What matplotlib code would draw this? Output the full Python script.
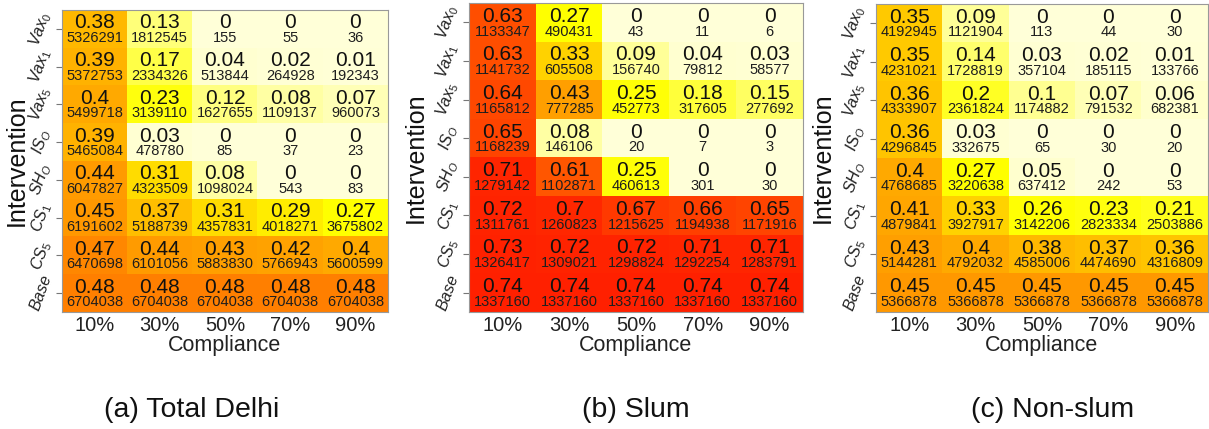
import matplotlib
matplotlib.use("Agg")
import matplotlib.pyplot as plt
import numpy as np
from matplotlib.colors import LinearSegmentedColormap

plt.rcParams['font.family'] = ['Liberation Sans', 'DejaVu Sans']
plt.rcParams['mathtext.fontset'] = 'custom'
plt.rcParams['mathtext.it'] = 'Liberation Sans:italic'
plt.rcParams['mathtext.rm'] = 'Liberation Sans'

# rows top -> bottom, columns = compliance levels
interventions = [r'$Vax_0$', r'$Vax_1$', r'$Vax_5$', r'$IS_O$', r'$SH_O$',
                 r'$CS_1$', r'$CS_5$', r'$Base$']
compliance = ['10%', '30%', '50%', '70%', '90%']
captions = ['(a) Total Delhi', '(b) Slum', '(c) Non-slum']

frac_total = [
    [0.38, 0.13, 0, 0, 0],
    [0.39, 0.17, 0.04, 0.02, 0.01],
    [0.4, 0.23, 0.12, 0.08, 0.07],
    [0.39, 0.03, 0, 0, 0],
    [0.44, 0.31, 0.08, 0, 0],
    [0.45, 0.37, 0.31, 0.29, 0.27],
    [0.47, 0.44, 0.43, 0.42, 0.4],
    [0.48, 0.48, 0.48, 0.48, 0.48],
]
count_total = [
    [5326291, 1812545, 155, 55, 36],
    [5372753, 2334326, 513844, 264928, 192343],
    [5499718, 3139110, 1627655, 1109137, 960073],
    [5465084, 478780, 85, 37, 23],
    [6047827, 4323509, 1098024, 543, 83],
    [6191602, 5188739, 4357831, 4018271, 3675802],
    [6470698, 6101056, 5883830, 5766943, 5600599],
    [6704038, 6704038, 6704038, 6704038, 6704038],
]

frac_slum = [
    [0.63, 0.27, 0, 0, 0],
    [0.63, 0.33, 0.09, 0.04, 0.03],
    [0.64, 0.43, 0.25, 0.18, 0.15],
    [0.65, 0.08, 0, 0, 0],
    [0.71, 0.61, 0.25, 0, 0],
    [0.72, 0.7, 0.67, 0.66, 0.65],
    [0.73, 0.72, 0.72, 0.71, 0.71],
    [0.74, 0.74, 0.74, 0.74, 0.74],
]
count_slum = [
    [1133347, 490431, 43, 11, 6],
    [1141732, 605508, 156740, 79812, 58577],
    [1165812, 777285, 452773, 317605, 277692],
    [1168239, 146106, 20, 7, 3],
    [1279142, 1102871, 460613, 301, 30],
    [1311761, 1260823, 1215625, 1194938, 1171916],
    [1326417, 1309021, 1298824, 1292254, 1283791],
    [1337160, 1337160, 1337160, 1337160, 1337160],
]

frac_nonslum = [
    [0.35, 0.09, 0, 0, 0],
    [0.35, 0.14, 0.03, 0.02, 0.01],
    [0.36, 0.2, 0.1, 0.07, 0.06],
    [0.36, 0.03, 0, 0, 0],
    [0.4, 0.27, 0.05, 0, 0],
    [0.41, 0.33, 0.26, 0.23, 0.21],
    [0.43, 0.4, 0.38, 0.37, 0.36],
    [0.45, 0.45, 0.45, 0.45, 0.45],
]
count_nonslum = [
    [4192945, 1121904, 113, 44, 30],
    [4231021, 1728819, 357104, 185115, 133766],
    [4333907, 2361824, 1174882, 791532, 682381],
    [4296845, 332675, 65, 30, 20],
    [4768685, 3220638, 637412, 242, 53],
    [4879841, 3927917, 3142206, 2823334, 2503886],
    [5144281, 4792032, 4585006, 4474690, 4316809],
    [5366878, 5366878, 5366878, 5366878, 5366878],
]

# heat-style colour scale shared by the three panels
vmax = 0.74
nodes = [(0.00, '#FFFFD8'), (0.06, '#FFFFCC'), (0.08, '#FFFFA0'),
         (0.13, '#FFFF78'), (0.17, '#FFFF45'), (0.22, '#FFFF10'),
         (0.27, '#FFFF00'), (0.31, '#FFDD00'), (0.37, '#FFC000'),
         (0.40, '#FFAA00'), (0.45, '#FF9800'), (0.48, '#FF8000'),
         (0.55, '#FF6800'), (0.61, '#FF5800'), (0.66, '#FF4000'),
         (0.70, '#FF2800'), (0.74, '#FF2000')]
cmap = LinearSegmentedColormap.from_list('heat', [(v / vmax, c) for v, c in nodes])

W, H = 1209, 429
fig = plt.figure(figsize=(W / 100, H / 100), dpi=100)

# pixel boxes: left, right, top, bottom, x of y-label anchor
boxes = [(62, 388, 10, 312, 29), (469, 803, 3, 312, 428), (876, 1208, 4, 312, 835)]
caption_x = [192, 636, 1053]
panels = [(frac_total, count_total), (frac_slum, count_slum), (frac_nonslum, count_nonslum)]

for (frac, count), (l, r, t, b, lx), cap, cx in zip(panels, boxes, captions, caption_x):
    ax = fig.add_axes([l / W, (H - b) / H, (r - l) / W, (b - t) / H])
    fr = np.array(frac)
    ax.imshow(fr, cmap=cmap, vmin=0, vmax=vmax, aspect='auto', interpolation='nearest')
    for i in range(fr.shape[0]):
        for j in range(fr.shape[1]):
            ax.text(j, i - 0.16, f"{fr[i, j]:g}", ha='center', va='center',
                    fontsize=15, color='#111111')
            ax.text(j, i + 0.24, str(count[i][j]), ha='center', va='center',
                    fontsize=10.5, color='#1e1e1e')
    ax.set_xticks(range(len(compliance)))
    ax.set_xticklabels(compliance, fontsize=14.5, color='#222222')
    ax.set_yticks(range(len(interventions)))
    ax.set_yticklabels(interventions, fontsize=11.5, rotation=70, color='#222222',
                       va='center', ha='right')
    ax.tick_params(axis='x', length=0, pad=3)
    ax.tick_params(axis='y', length=4, width=0.8, color='#777777', pad=1)
    for s in ax.spines.values():
        s.set_color('#999999')
        s.set_linewidth(0.8)
    ax.set_xlabel('Compliance', fontsize=15.5, color='#222222', labelpad=0)
    ax.set_ylabel('Intervention', fontsize=18, color='#111111')
    ax.yaxis.set_label_coords((lx - l) / (r - l), 0.5)
    fig.text(cx / W, (H - 410) / H, cap, ha='center', va='center', fontsize=20.5,
             color='#111111')

fig.savefig('out.png', dpi=100)
